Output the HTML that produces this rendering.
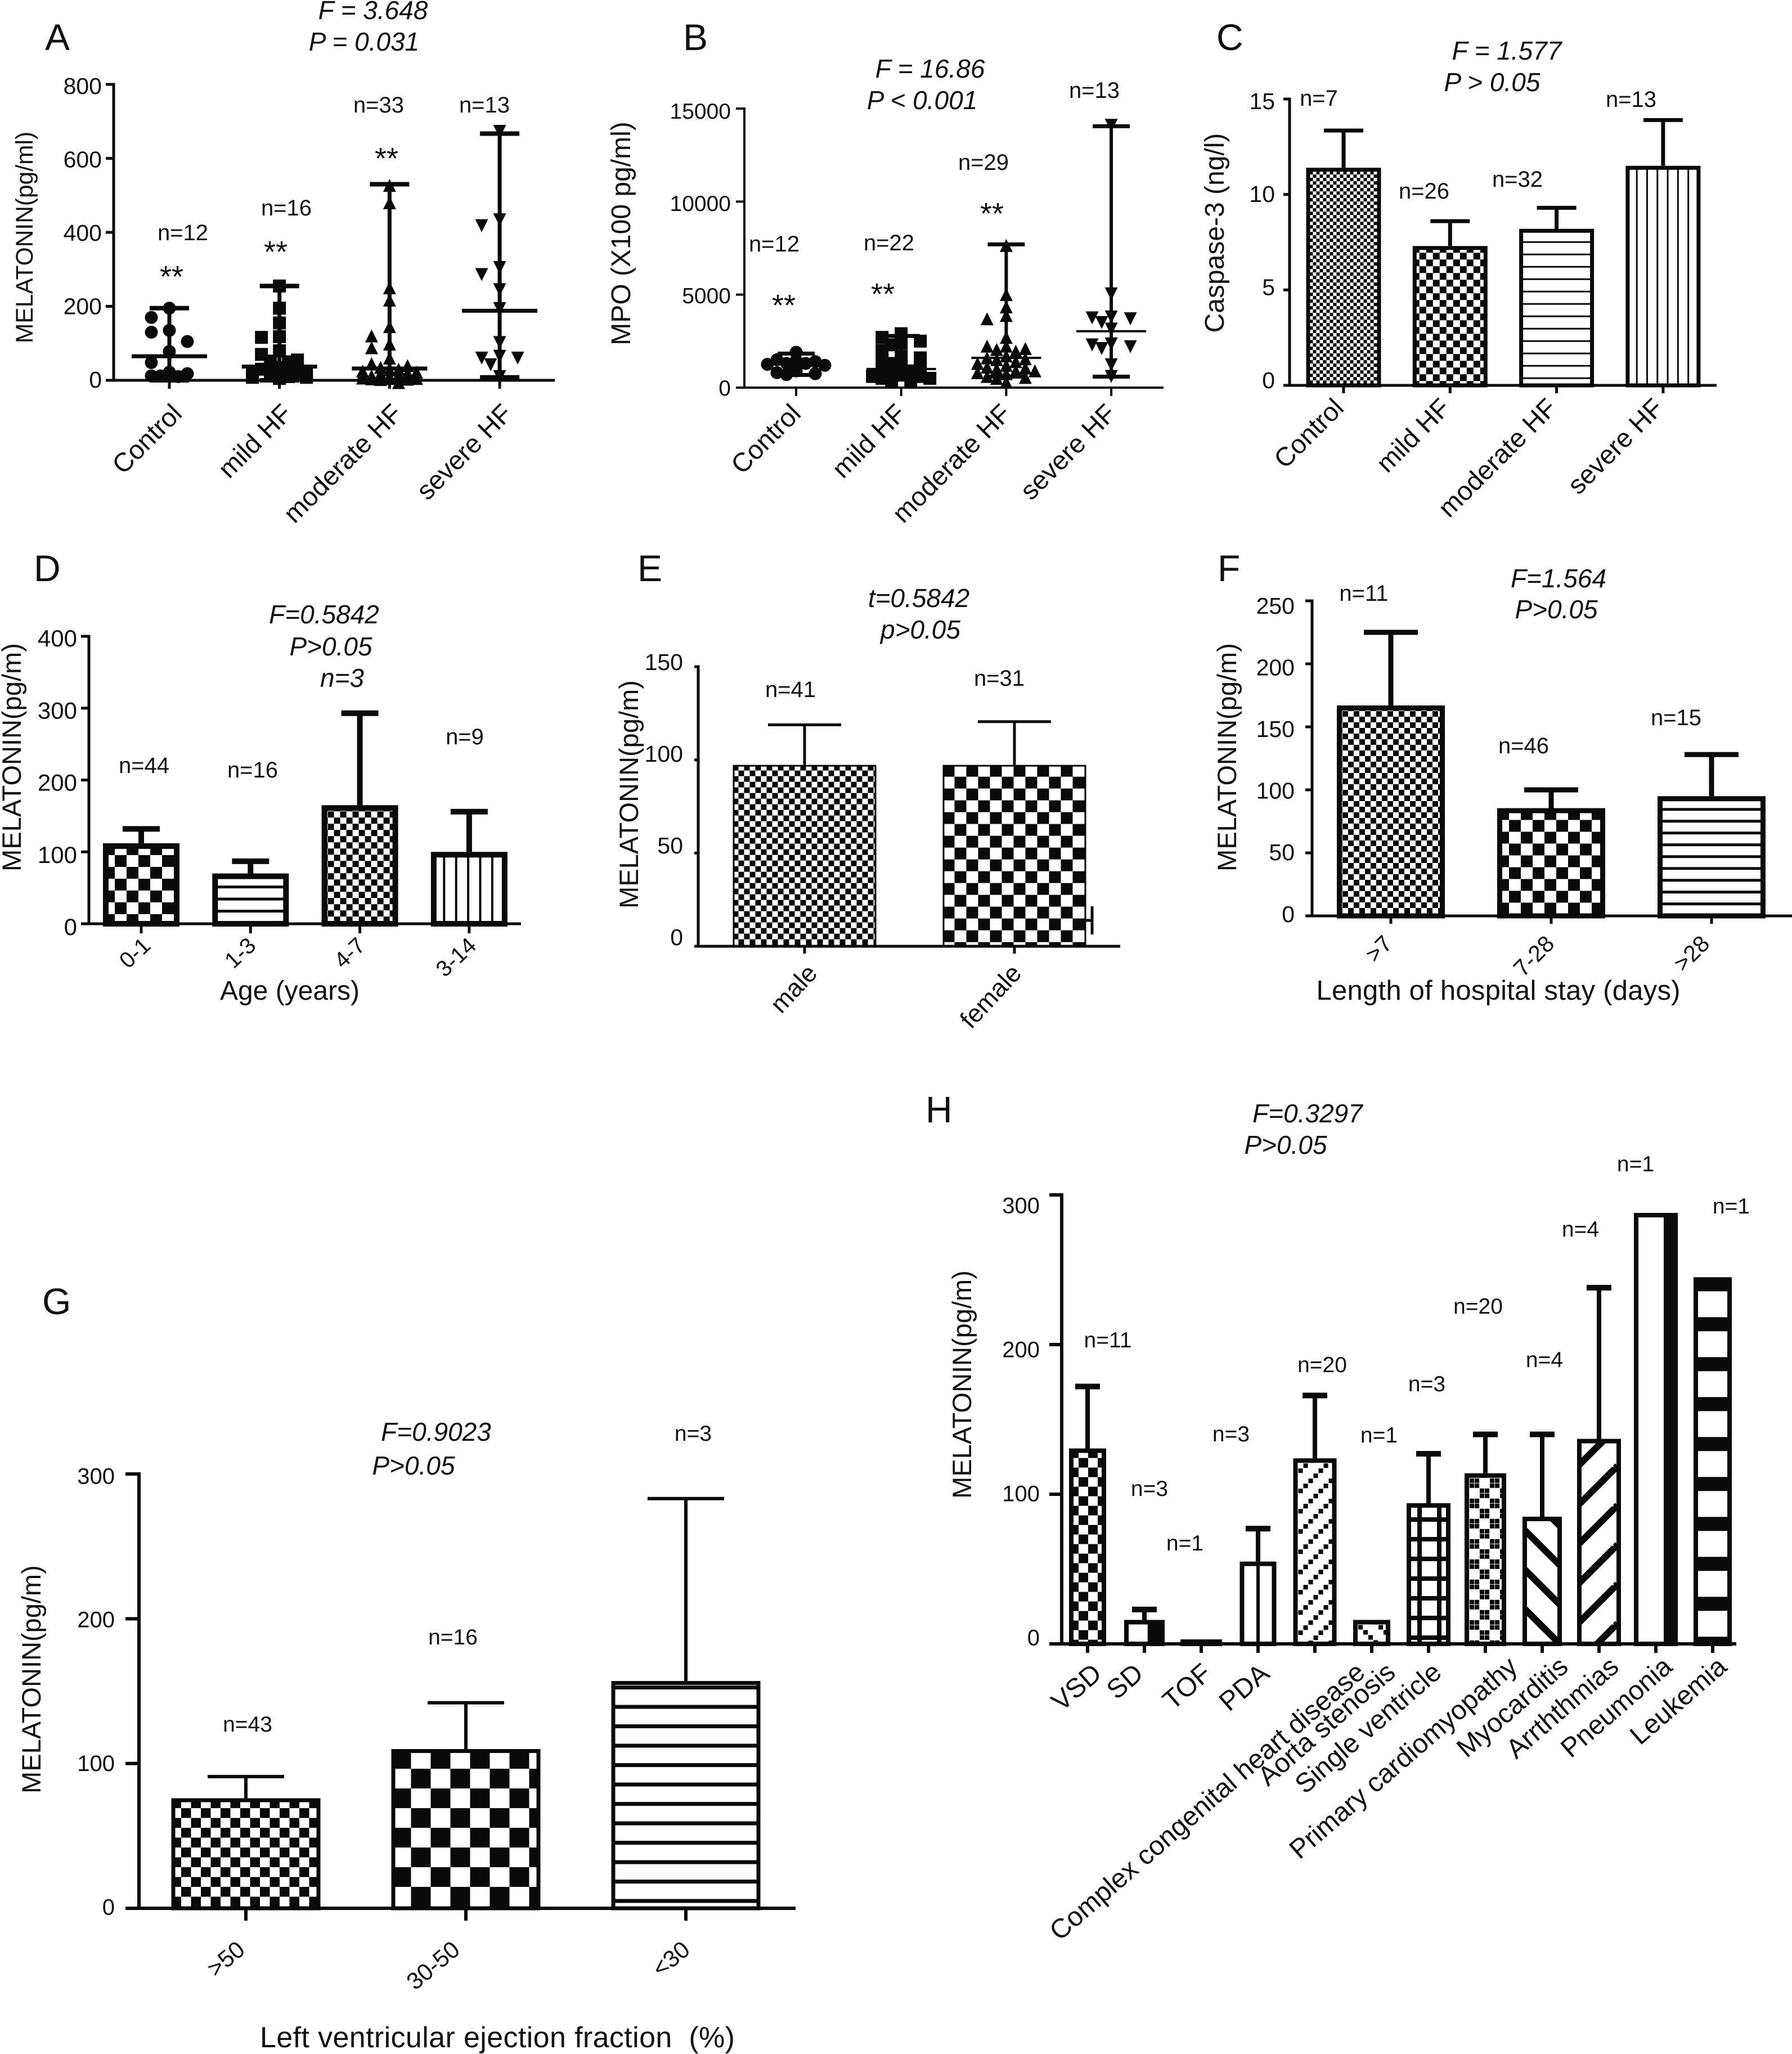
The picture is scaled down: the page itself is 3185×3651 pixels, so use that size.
<!DOCTYPE html>
<html lang="en">
<head>
<meta charset="utf-8">
<title>Melatonin, MPO and Caspase-3 panels</title>
<style>
html,body{margin:0;padding:0;background:#fff}
svg{display:block}
text{font-family:"Liberation Sans",sans-serif;fill:#111}
.letter{font-size:66px}
.ann{font-size:46px;font-style:italic;text-anchor:middle}
.n{font-size:40px;text-anchor:middle}
.ns{font-size:39px;text-anchor:middle}
.star{font-size:54px;text-anchor:middle}
.ytitle{font-size:47px;text-anchor:middle}
.xtitle{font-size:47px;text-anchor:middle}
.hcat{font-size:48px;text-anchor:end}
</style>
</head>
<body>
<svg id="figure" xmlns="http://www.w3.org/2000/svg" width="3185" height="3651" viewBox="0 0 3185 3651">
<rect x="0" y="0" width="3185" height="3651" fill="#fff"/>
<defs id="defs"></defs>

<g id="panel-a">
<text class="letter" x="80" y="89">A</text>
<text class="ann" x="663" y="34">F = 3.648</text>
<text class="ann" x="647" y="90">P = 0.031</text>
<text class="n" x="325" y="427">n=12</text>
<text class="n" x="509" y="383">n=16</text>
<text class="n" x="673" y="200">n=33</text>
<text class="n" x="861" y="200">n=13</text>
<text class="star" x="305" y="510">**</text>
<text class="star" x="490" y="466">**</text>
<text class="star" x="687" y="300">**</text>
<text class="ytitle" style="font-size:42.5px" transform="translate(58 422) rotate(-90)">MELATONIN(pg/ml)</text>
</g>

<g id="panel-b">
<text class="letter" x="1214" y="89">B</text>
<text class="ann" x="1653" y="138">F = 16.86</text>
<text class="ann" x="1639" y="194">P &lt; 0.001</text>
<text class="n" x="1376" y="447">n=12</text>
<text class="n" x="1580" y="445">n=22</text>
<text class="n" x="1748" y="302">n=29</text>
<text class="n" x="1945" y="174">n=13</text>
<text class="star" x="1393" y="561">**</text>
<text class="star" x="1569" y="541">**</text>
<text class="star" x="1763" y="398">**</text>
<text class="ytitle" style="font-size:48px" transform="translate(1120 415) rotate(-90)">MPO (X100 pg/ml)</text>
</g>

<g id="panel-c">
<text class="letter" x="2162" y="89">C</text>
<text class="ann" x="2678" y="106">F = 1.577</text>
<text class="ann" x="2652" y="162">P &gt; 0.05</text>
<text class="n" x="2344" y="188">n=7</text>
<text class="n" x="2531" y="353">n=26</text>
<text class="n" x="2697" y="332">n=32</text>
<text class="n" x="2899" y="190">n=13</text>
<text class="ytitle" style="font-size:48px" transform="translate(2175 414) rotate(-90)">Caspase-3 (ng/l)</text>
</g>

<g id="panel-d">
<text class="letter" x="60" y="1033">D</text>
<text class="ann" x="576" y="1108">F=0.5842</text>
<text class="ann" x="588" y="1165">P&gt;0.05</text>
<text class="ann" x="608" y="1221">n=3</text>
<text class="n" x="256" y="1374">n=44</text>
<text class="n" x="449" y="1382">n=16</text>
<text class="n" x="826" y="1323">n=9</text>
<text class="ytitle" transform="translate(37 1346) rotate(-90)">MELATONIN(pg/m)</text>
<text class="xtitle" style="font-size:48px" x="515" y="1777">Age (years)</text>
</g>

<g id="panel-e">
<text class="letter" x="1133" y="1033">E</text>
<text class="ann" x="1633" y="1079">t=0.5842</text>
<text class="ann" x="1636" y="1135">p&gt;0.05</text>
<text class="n" x="1405" y="1239">n=41</text>
<text class="n" x="1776" y="1219">n=31</text>
<text class="ytitle" transform="translate(1134 1412) rotate(-90)">MELATONIN(pg/m)</text>
<line x1="1910" y1="1636" x2="1941" y2="1636" stroke="#0a0a0a" stroke-width="5"/>
<line x1="1941" y1="1611" x2="1941" y2="1661" stroke="#0a0a0a" stroke-width="5"/>
</g>

<g id="panel-f">
<text class="letter" x="2164" y="1033">F</text>
<text class="ann" x="2770" y="1044">F=1.564</text>
<text class="ann" x="2766" y="1099">P&gt;0.05</text>
<text class="n" x="2424" y="1068">n=11</text>
<text class="n" x="2708" y="1339">n=46</text>
<text class="n" x="2979" y="1289">n=15</text>
<text class="ytitle" transform="translate(2197 1346) rotate(-90)">MELATONIN(pg/m)</text>
<text class="xtitle" style="font-size:49px" x="2663" y="1777" textLength="647">Length of hospital stay (days)</text>
</g>

<g id="panel-g">
<text class="letter" x="75" y="2336">G</text>
<text class="ann" x="775" y="2561">F=0.9023</text>
<text class="ann" x="735" y="2621">P&gt;0.05</text>
<text class="ns" x="1232" y="2561">n=3</text>
<text class="ns" x="805" y="2923">n=16</text>
<text class="ns" x="440" y="3078">n=43</text>
<text class="ytitle" transform="translate(72 2985) rotate(-90)">MELATONIN(pg/m)</text>
<text class="xtitle" style="font-size:52px" x="884" y="3639" textLength="844" xml:space="preserve">Left ventricular ejection fraction  (%)</text>
</g>

<g id="panel-h">
<text class="letter" x="1645" y="1995">H</text>
<text class="ann" x="2324" y="1995">F=0.3297</text>
<text class="ann" x="2285" y="2051">P&gt;0.05</text>
<text class="ns" x="1969" y="2395">n=11</text>
<text class="ns" x="2043" y="2659">n=3</text>
<text class="ns" x="2106" y="2756">n=1</text>
<text class="ns" x="2188" y="2562">n=3</text>
<text class="ns" x="2350" y="2439">n=20</text>
<text class="ns" x="2451" y="2564">n=1</text>
<text class="ns" x="2536" y="2473">n=3</text>
<text class="ns" x="2627" y="2335">n=20</text>
<text class="ns" x="2745" y="2430">n=4</text>
<text class="ns" x="2809" y="2198">n=4</text>
<text class="ns" x="2907" y="2082">n=1</text>
<text class="ns" x="3077" y="2157">n=1</text>
<text class="ytitle" transform="translate(1726 2461) rotate(-90)">MELATONIN(pg/m)</text>
<text class="hcat" transform="translate(1961 2979) rotate(-41)">VSD</text>
<text class="hcat" transform="translate(2035 2979) rotate(-41)">SD</text>
<text class="hcat" transform="translate(2156 2979) rotate(-41)">TOF</text>
<text class="hcat" transform="translate(2259 2979) rotate(-41)">PDA</text>
<text class="hcat" transform="translate(2429 2977) rotate(-41)">Complex congenital heart disease</text>
<text class="hcat" transform="translate(2483 2977) rotate(-41)">Aorta stenosis</text>
<text class="hcat" transform="translate(2565 2977) rotate(-41)">Single ventricle</text>
<text class="hcat" transform="translate(2700 2967) rotate(-41)">Primary cardiomyopathy</text>
<text class="hcat" transform="translate(2790 2967) rotate(-41)">Myocarditis</text>
<text class="hcat" transform="translate(2880 2967) rotate(-41)">Arrththmias</text>
<text class="hcat" transform="translate(2975 2967) rotate(-41)">Pneumonia</text>
<text class="hcat" transform="translate(3072 2967) rotate(-41)">Leukemia</text>
</g>
</svg>

<script>
// ---------- chart data ----------
const heartFailureCategories = ['Control', 'mild HF', 'moderate HF', 'severe HF'];

const panelATicks = [0, 200, 400, 600, 800];
const panelAControl = [195, 170, 135, 130, 105, 78, 48, 22, 18, 12, 12, 10];
const panelAMild = [255, 195, 155, 118, 116, 80, 70, 55, 52, 50, 35, 30, 25, 22, 20, 18, 15, 12, 10, 8, 8, 5];
const panelAModerate = [527, 480, 250, 217, 145, 120, 98, 88, 60, 45, 40, 35, 30, 28, 25, 22, 20, 18, 15, 14, 12, 10, 10, 8, 8, 6, 6, 5, 5, 4, 3, 2, -6];
const panelASevere = [673, 434, 418, 305, 286, 245, 194, 102, 65, 60, 60, 42, 10];
const panelAMedians = [65, 37, 32, 188];
const panelAUpper = [195, 255, 530, 667];
const panelALower = [0, 0, 0, 8];

const panelBTicks = [0, 5000, 10000, 15000];
const panelBControl = [1900, 1500, 1450, 1400, 1300, 1300, 1250, 1200, 900, 800, 750, 700];
const panelBMild = [2900, 2700, 2500, 2400, 2300, 2000, 1700, 1600, 1500, 1300, 1200, 1100, 1000, 900, 800, 700, 600, 600, 500, 500, 400, 300];
const panelBModerate = [7640, 5000, 4340, 3880, 3700, 2700, 2230, 2230, 2100, 2050, 1960, 1700, 1600, 1550, 1500, 1400, 1300, 1200, 1100, 1050, 1000, 900, 900, 800, 750, 600, 550, 500, 300];
const panelBSevere = [14100, 5040, 3800, 3750, 3700, 3500, 3150, 2350, 2300, 2200, 2100, 1230, 600];
const panelBMedians = [1263, 1000, 1600, 3030];
const panelBUpper = [1830, 2780, 7700, 14050];
const panelBLower = [680, 430, 590, 590];

const panelCTicks = [0, 5, 10, 15];
const panelCMeans = [11.4, 7.3, 8.2, 11.5];
const panelCUpper = [13.35, 8.6, 9.3, 13.9];

const panelDCategories = ['0-1', '1-3', '4-7', '3-14'];
const panelDTicks = [0, 100, 200, 300, 400];
const panelDMeans = [112, 70, 165, 100];
const panelDUpper = [132, 87, 293, 156];

const panelECategories = ['male', 'female'];
const panelETicks = [0, 50, 100, 150];
const panelEMeans = [97.3, 97.3];
const panelEUpper = [118.8, 120.5];

const panelFCategories = ['>7', '7-28', '>28'];
const panelFTicks = [0, 50, 100, 150, 200, 250];
const panelFMeans = [167, 85.5, 95];
const panelFUpper = [225, 100, 128];

const panelGCategories = ['>50', '30-50', '<30'];
const panelGTicks = [0, 100, 200, 300];
const panelGMeans = [76, 110, 157];
const panelGUpper = [91, 142, 283];

const panelHCategoryCount = 12;
const panelHTicks = [0, 100, 200, 300];
const panelHMeans = [130.6, 16, 3, 55, 124, 16, 94, 114, 85, 137, 288, 245];
const panelHUpper = [172, 23, null, 77, 166, null, 127, 140, 140, 238, null, null];

// ---------- drawing helpers ----------
const NS = 'http://www.w3.org/2000/svg';
const INK = '#0a0a0a';
let fillCounter = 0;

function mk(tag, attrs, parent) {
  const node = document.createElementNS(NS, tag);
  for (const key in attrs) node.setAttribute(key, attrs[key]);
  if (parent) parent.appendChild(node);
  return node;
}
function drawLine(parent, x1, y1, x2, y2, width, name) {
  const el = mk('line', { x1: x1, y1: y1, x2: x2, y2: y2, stroke: INK, 'stroke-width': width }, parent);
  
  
  return el;
}
function drawText(parent, x, y, str, size, anchor, rotate, name) {
  const el = mk('text', { 'font-size': size, 'text-anchor': anchor }, parent);
  if (rotate) el.setAttribute('transform', 'translate(' + x + ' ' + y + ') rotate(' + rotate + ')');
  else { el.setAttribute('x', x); el.setAttribute('y', y); }
  el.textContent = str;
  
  
  return el;
}
function yScale(g) {
  return function (v) { return g.yBottom - (v / g.max) * (g.yBottom - g.yTop); };
}
function xScale(g) {
  return function (i) { return g.cat0 + i * g.catStep; };
}
function drawAxes(parent, g, ticks, categories) {
  const y = yScale(g), x = xScale(g);
  drawLine(parent, g.axisX, g.yTop - g.lw / 2, g.axisX, g.yBottom, g.lw, 'y-axis');
  drawLine(parent, g.xStart, g.yBottom, g.xEnd, g.yBottom, g.lw, 'x-axis');
  ticks.forEach(function (t) {
    drawLine(parent, g.xStart, y(t), g.axisX, y(t), g.lw, 'y-tick');
    const frac = t / g.max;
    const shift = g.dyBottom + (g.dyTop - g.dyBottom) * frac;
    drawText(parent, g.labelRight, y(t) + shift + g.tickFont * 0.36, String(t), g.tickFont, 'end', 0, 'y-tick-label');
  });
  for (let i = 0; i < categories; i++) {
    drawLine(parent, x(i), g.yBottom, x(i), g.tickBottom, g.lw, 'x-tick');
  }
}
function drawCategoryLabels(parent, g, labels) {
  const x = xScale(g);
  labels.forEach(function (label, i) {
    const nudge = g.catNudge ? g.catNudge[i] : g.catDx;
    drawText(parent, x(i) + nudge, g.catY, label, g.catFont, 'end', g.angle, 'category-label');
  });
}
function makeFill(spec, bx, by, bw) {
  const id = 'fill' + (fillCounter++);
  const defs = document.getElementById('defs');
  const k = spec.kind;
  let pw, ph;
  if (k === 'check') { pw = ph = spec.c * 2; }
  else if (k === 'hlines') { pw = 10; ph = spec.p; }
  else if (k === 'vlines') { pw = spec.p; ph = 10; }
  else if (k === 'grid') { pw = spec.px; ph = spec.py; }
  else if (k === 'half' || k === 'center') { pw = bw; ph = 10; }
  else { pw = ph = spec.p; }
  const pat = mk('pattern', { id: id, patternUnits: 'userSpaceOnUse', x: bx + (spec.ox || 0), y: by + (spec.oy || 0), width: pw, height: ph }, defs);
  
  
  mk('rect', { x: 0, y: 0, width: pw, height: ph, fill: '#fff' }, pat);
  if (k === 'check') {
    mk('rect', { x: 0, y: 0, width: pw / 2, height: ph / 2, fill: INK }, pat);
    mk('rect', { x: pw / 2, y: ph / 2, width: pw / 2, height: ph / 2, fill: INK }, pat);
  } else if (k === 'hlines') {
    mk('rect', { x: 0, y: 0, width: pw, height: spec.t, fill: INK }, pat);
  } else if (k === 'vlines') {
    mk('rect', { x: 0, y: 0, width: spec.t, height: ph, fill: INK }, pat);
  } else if (k === 'grid') {
    mk('rect', { x: 0, y: 0, width: spec.t, height: ph, fill: INK }, pat);
    mk('rect', { x: 0, y: 0, width: pw, height: spec.t, fill: INK }, pat);
  } else if (k === 'half') {
    const bf = bw * spec.f;
    mk('rect', { x: bw - bf, y: 0, width: bf, height: ph, fill: INK }, pat);
  } else if (k === 'center') {
    mk('rect', { x: bw / 2 - spec.t / 2, y: 0, width: spec.t, height: ph, fill: INK }, pat);
  } else if (k === 'slash') {
    mk('path', { d: 'M-2,' + (pw + 2) + 'L' + (pw + 2) + ',-2M-2,2L2,-2M' + (pw - 2) + ',' + (pw + 2) + 'L' + (pw + 2) + ',' + (pw - 2), stroke: INK, 'stroke-width': spec.t, fill: 'none' }, pat);
  } else if (k === 'backslash') {
    mk('path', { d: 'M-2,-2L' + (pw + 2) + ',' + (pw + 2) + 'M-2,' + (pw - 2) + 'L2,' + (pw + 2) + 'M' + (pw - 2) + ',-2L' + (pw + 2) + ',2', stroke: INK, 'stroke-width': spec.t, fill: 'none' }, pat);
  } else if (k === 'dotslash' || k === 'dotback' || k === 'dotcross') {
    const cell = pw / 4;
    for (let i = 0; i < 4; i++) {
      if (k !== 'dotback') mk('rect', { x: i * cell, y: pw - cell - i * cell, width: cell * 0.9, height: cell * 0.9, fill: INK }, pat);
      if (k !== 'dotslash') mk('rect', { x: i * cell, y: i * cell, width: cell * 0.9, height: cell * 0.9, fill: INK }, pat);
    }
  }
  return 'url(#' + id + ')';
}
function drawBars(parent, g, means, upper, fills) {
  const y = yScale(g), x = xScale(g);
  means.forEach(function (mean, i) {
    const cx = x(i), top = y(mean), w = g.barWidths ? g.barWidths[i] : g.barWidth, sw = g.barStroke;
    if (upper[i] !== null) {
      drawLine(parent, cx, y(upper[i]), cx, top, g.errWidth, 'error-bar-stem');
      drawLine(parent, cx - g.capHalf, y(upper[i]), cx + g.capHalf, y(upper[i]), g.capWidth, 'error-bar-cap');
    }
    const bar = mk('rect', {
      x: cx - w / 2 + sw / 2, y: top + sw / 2, width: w - sw,
      height: Math.max(0, g.yBottom - top - sw / 2),
      fill: makeFill(fills[i], cx - w / 2, top, w), stroke: INK, 'stroke-width': sw
    }, parent);
    
    
  });
}
function swarmOffsets(pixelYs, step, gap) {
  const order = [0, -2, 2, -1, 1, -3, 3];
  const columns = {};
  return pixelYs.map(function (py, idx) {
    let chosen = null;
    for (let j = 0; j < order.length && chosen === null; j++) {
      const col = columns[order[j]] || [];
      if (col.every(function (other) { return Math.abs(other - py) >= gap; })) chosen = order[j];
    }
    if (chosen === null) chosen = order[idx % order.length];
    (columns[chosen] = columns[chosen] || []).push(py);
    return chosen * step;
  });
}
function drawMarker(parent, shape, cx, cy, size) {
  const r = size / 2;
  let el;
  if (shape === 'circle') el = mk('circle', { cx: cx, cy: cy, r: r, fill: INK }, parent);
  else if (shape === 'square') el = mk('rect', { x: cx - r, y: cy - r, width: size, height: size, fill: INK }, parent);
  else if (shape === 'up') el = mk('polygon', { points: (cx - r) + ',' + (cy + r) + ' ' + (cx + r) + ',' + (cy + r) + ' ' + cx + ',' + (cy - r), fill: INK }, parent);
  else el = mk('polygon', { points: (cx - r) + ',' + (cy - r) + ' ' + (cx + r) + ',' + (cy - r) + ' ' + cx + ',' + (cy + r), fill: INK }, parent);
  
  
}
function drawScatter(parent, g, groups, medians, upper, lower, shapes) {
  const y = yScale(g), x = xScale(g);
  groups.forEach(function (values, i) {
    const cx = x(i);
    const sorted = values.slice().sort(function (a, b) { return b - a; });
    const ys = sorted.map(y);
    const offs = swarmOffsets(ys, g.step, g.gap);
    ys.forEach(function (py, k) { drawMarker(parent, shapes[i], cx + offs[k], py, g.markerSize); });
    drawLine(parent, cx, y(upper[i]), cx, y(lower[i]), g.errWidth, 'whisker');
    drawLine(parent, cx - g.capHalf, y(upper[i]), cx + g.capHalf, y(upper[i]), g.capWidth, 'whisker-cap-upper');
    drawLine(parent, cx - g.capHalf, y(lower[i]), cx + g.capHalf, y(lower[i]), g.capWidth, 'whisker-cap-lower');
    drawLine(parent, cx - g.medianHalf, y(medians[i]), cx + g.medianHalf, y(medians[i]), g.medianWidth, 'median-line');
  });
}

// ---------- panel layout ----------
const layoutA = { axisX: 202, xStart: 188, xEnd: 986, yTop: 150, yBottom: 676, max: 800, cat0: 301, catStep: 195.7, tickBottom: 691, lw: 5, labelRight: 181, tickFont: 41, dyTop: 2, dyBottom: -2, catFont: 47, catDx: 25, catY: 738, angle: -45, step: 16, gap: 21, markerSize: 23, errWidth: 7, capWidth: 8, capHalf: 35, medianHalf: 67, medianWidth: 7 };
const layoutB = { axisX: 1323, xStart: 1308, xEnd: 2068, yTop: 193, yBottom: 689, max: 15000, cat0: 1415, catStep: 186.7, tickBottom: 704, lw: 4, labelRight: 1299, tickFont: 39, dyTop: 4, dyBottom: 0, catFont: 47, catDx: 11, catY: 738, angle: -45, step: 17, gap: 14, markerSize: 23, errWidth: 6, capWidth: 7, capHalf: 33, medianHalf: 62, medianWidth: 4 };
const layoutC = { axisX: 2292, xStart: 2281, xEnd: 3051, yTop: 176, yBottom: 685, max: 15, cat0: 2388, catStep: 189.3, tickBottom: 699, lw: 5, labelRight: 2266, tickFont: 41, dyTop: 3, dyBottom: -10, catFont: 47, catDx: 3, catY: 728, angle: -45, barWidth: 133, barStroke: 7, errWidth: 7, capWidth: 7, capHalf: 35 };
const layoutD = { axisX: 158, xStart: 144, xEnd: 926, yTop: 1131, yBottom: 1642, max: 400, cat0: 251, catStep: 194.3, tickBottom: 1659, lw: 5, labelRight: 137, tickFont: 42, dyTop: 3, dyBottom: 5, catFont: 40, catNudge: [19, 12, 12, 15], catY: 1684, angle: -43, barWidth: 136, barStroke: 10, errWidth: 10, capWidth: 10, capHalf: 33 };
const layoutE = { axisX: 1241, xStart: 1234, xEnd: 1991, yTop: 1185, yBottom: 1682, max: 150, cat0: 1430, catStep: 373, tickBottom: 1695, lw: 5, labelRight: 1214, tickFont: 41, dyTop: -9, dyBottom: -17, catFont: 45, catNudge: [25, 15], catY: 1732, angle: -47, barWidth: 255, barStroke: 3, errWidth: 5, capWidth: 5, capHalf: 65 };
const layoutF = { axisX: 2332, xStart: 2320, xEnd: 3185, yTop: 1068, yBottom: 1628, max: 250, cat0: 2472, catStep: 285, tickBottom: 1642, lw: 5, labelRight: 2301, tickFont: 41, dyTop: 8, dyBottom: -4, catFont: 41, catNudge: [5, 8, -1], catY: 1680, angle: -45, barWidth: 192, barStroke: 9, errWidth: 9, capWidth: 9, capHalf: 48 };
const layoutG = { axisX: 247, xStart: 223, xEnd: 1414, yTop: 2620, yBottom: 3392, max: 300, cat0: 437, catStep: 391, tickBottom: 3414, lw: 6, labelRight: 204, tickFont: 40, dyTop: 3, dyBottom: -3, catFont: 42, catNudge: [1, -8, 10], catY: 3470, angle: -40, barWidth: 265, barStroke: 7, errWidth: 6, capWidth: 6, capHalf: 68 };
const layoutH = { axisX: 1887, xStart: 1865, xEnd: 3086, yTop: 2124, yBottom: 2922, max: 300, cat0: 1933, catStep: 101, tickBottom: 2938, lw: 6, labelRight: 1848, tickFont: 40, dyTop: 18, dyBottom: -12, barWidths: [66, 72, 74, 65, 77, 66, 78, 74, 70, 78, 78, 68], barStroke: 8, errWidth: 8, capWidth: 10, capHalf: 22 };

// ---------- render ----------
const gA = document.getElementById('panel-a');
drawScatter(gA, layoutA, [panelAControl, panelAMild, panelAModerate, panelASevere], panelAMedians, panelAUpper, panelALower, ['circle', 'square', 'up', 'down']);
drawAxes(gA, layoutA, panelATicks, heartFailureCategories.length);
drawCategoryLabels(gA, layoutA, heartFailureCategories);

const gB = document.getElementById('panel-b');
drawScatter(gB, layoutB, [panelBControl, panelBMild, panelBModerate, panelBSevere], panelBMedians, panelBUpper, panelBLower, ['circle', 'square', 'up', 'down']);
drawAxes(gB, layoutB, panelBTicks, heartFailureCategories.length);
drawCategoryLabels(gB, layoutB, heartFailureCategories);

const gC = document.getElementById('panel-c');
drawBars(gC, layoutC, panelCMeans, panelCUpper, [{ kind: 'check', c: 6 }, { kind: 'check', c: 12 }, { kind: 'hlines', p: 22, t: 3 }, { kind: 'vlines', p: 18.3, t: 3 }]);
drawAxes(gC, layoutC, panelCTicks, heartFailureCategories.length);
drawCategoryLabels(gC, layoutC, heartFailureCategories);

const gD = document.getElementById('panel-d');
drawBars(gD, layoutD, panelDMeans, panelDUpper, [{ kind: 'check', c: 21 }, { kind: 'hlines', p: 21.5, t: 5 }, { kind: 'check', c: 11 }, { kind: 'vlines', p: 21.4, t: 4 }]);
drawAxes(gD, layoutD, panelDTicks, panelDCategories.length);
drawCategoryLabels(gD, layoutD, panelDCategories);

const gE = document.getElementById('panel-e');
drawBars(gE, layoutE, panelEMeans, panelEUpper, [{ kind: 'check', c: 10 }, { kind: 'check', c: 21 }]);
drawAxes(gE, layoutE, panelETicks, panelECategories.length);
drawCategoryLabels(gE, layoutE, panelECategories);

const gF = document.getElementById('panel-f');
drawBars(gF, layoutF, panelFMeans, panelFUpper, [{ kind: 'check', c: 10 }, { kind: 'check', c: 21 }, { kind: 'hlines', p: 21, t: 5 }]);
drawAxes(gF, layoutF, panelFTicks, panelFCategories.length);
drawCategoryLabels(gF, layoutF, panelFCategories);

const gG = document.getElementById('panel-g');
drawBars(gG, layoutG, panelGMeans, panelGUpper, [{ kind: 'check', c: 17.5 }, { kind: 'check', c: 35 }, { kind: 'hlines', p: 34.5, t: 7, oy: 8 }]);
drawAxes(gG, layoutG, panelGTicks, panelGCategories.length);
drawCategoryLabels(gG, layoutG, panelGCategories);

const gH = document.getElementById('panel-h');
drawBars(gH, layoutH, panelHMeans, panelHUpper, [
  { kind: 'check', c: 17 }, { kind: 'half', f: 0.42 }, { kind: 'check', c: 4 }, { kind: 'center', t: 6 },
  { kind: 'dotslash', p: 36 }, { kind: 'dotback', p: 36 }, { kind: 'grid', px: 35, py: 35, t: 8, ox: 19, oy: 25 },
  { kind: 'dotcross', p: 36 }, { kind: 'backslash', p: 70, t: 12, oy: 20 }, { kind: 'slash', p: 70, t: 12, oy: 50 },
  { kind: 'half', f: 0.32 }, { kind: 'hlines', p: 71, t: 25 }
]);
drawAxes(gH, layoutH, panelHTicks, panelHCategoryCount);
</script>
</body>
</html>
